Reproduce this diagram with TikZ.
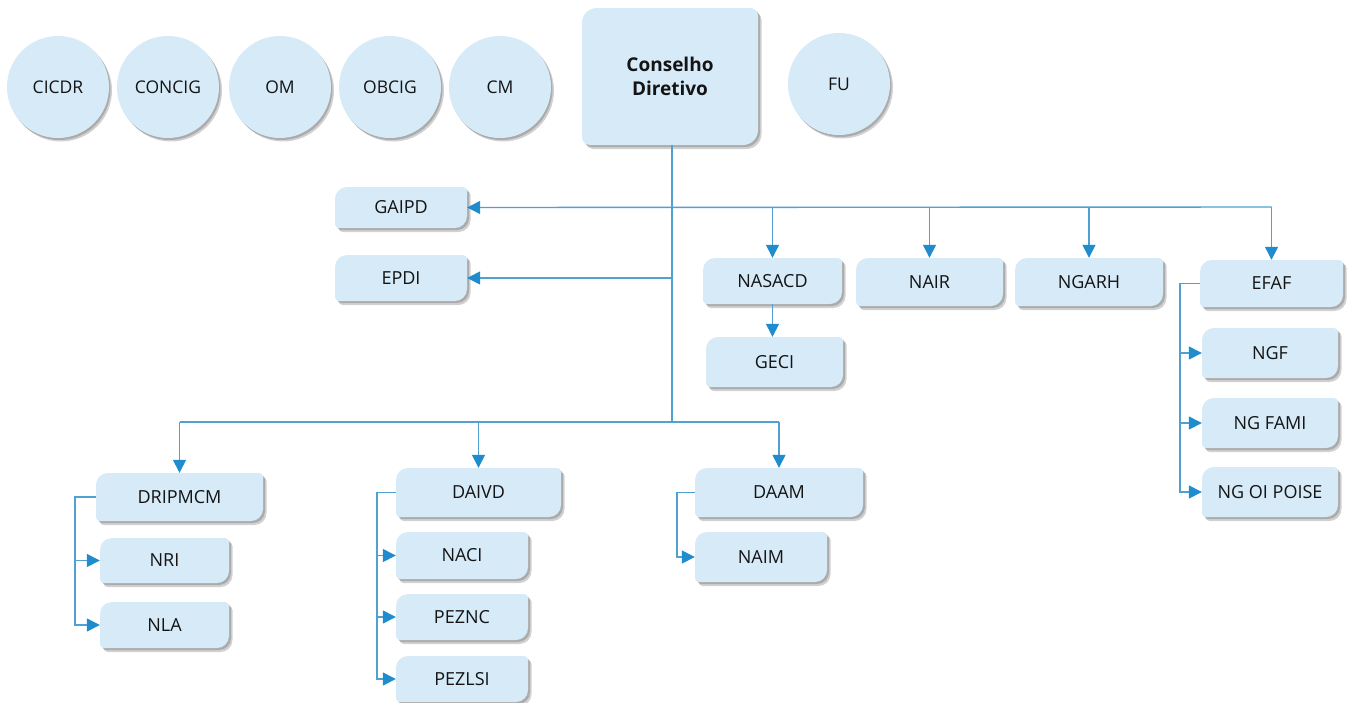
\documentclass[tikz,border=0pt]{standalone}
\usepackage{fontspec}
\setmainfont{Open Sans}
\usetikzlibrary{arrows.meta}
\definecolor{boxc}{RGB}{214,234,248}
\definecolor{linec}{RGB}{80,160,210}
\definecolor{tipc}{RGB}{30,140,205}
\definecolor{txtc}{RGB}{20,20,20}
\tikzset{
  lbl/.style={inner sep=0pt, text=txtc, font=\fontsize{18}{22}\selectfont, align=center},
  conn/.style={draw=linec, line width=1.4pt},
  tipend/.style={-{Triangle[length=13pt,width=13pt,color=tipc]}},
  circ/.style={circle, fill=boxc, inner sep=0pt, minimum size=102pt, text=txtc, font=\fontsize{17.5}{21}\selectfont},
  shad/.style={fill=black, opacity=0.18},
}
\newcommand\Rr{12}
\newcommand\rr{4}
\newcommand\oboxpath[4]{%
  ({#1+\Rr},{-#2}) -- ({#3-\rr},{-#2}) arc[start angle=90,end angle=0,radius=\rr]
  -- (#3,{-#4+\Rr}) arc[start angle=0,end angle=-90,radius=\Rr]
  -- ({#1+\rr},{-#4}) arc[start angle=270,end angle=180,radius=\rr]
  -- (#1,{-#2-\Rr}) arc[start angle=180,end angle=90,radius=\Rr] -- cycle}
\newcommand\obox[7][lbl]{%
  \begin{scope}[shift={(3.5,-4)}]\fill[shad] \oboxpath{#3}{#4}{#5}{#6};\end{scope}
  \begin{scope}[shift={(2,-2)}]\fill[shad] \oboxpath{#3}{#4}{#5}{#6};\end{scope}
  \fill[boxc] \oboxpath{#3}{#4}{#5}{#6};
  \pgfmathsetmacro\bw{#5-#3}\pgfmathsetmacro\bh{#6-#4}
  \node[#1, minimum width=\bw pt, minimum height=\bh pt] (#2) at ({(#3+#5)/2},{-(#4+#6)/2}) {#7};
}
\newcommand\ocirc[4]{%
  \fill[shad] ({#2+3},{-#3-3.5}) circle[radius=51];
  \fill[shad] ({#2+1.5},{-#3-2}) circle[radius=51];
  \node[circ] (#1) at (#2,-#3) {#4};
}
\begin{document}
\begin{tikzpicture}[x=1pt,y=1pt]
\useasboundingbox (0,0) rectangle (1351,-702);
\fill[white] (0,0) rectangle (1351,-702);

% circles
\ocirc{cicdr}{58}{87}{CICDR}
\ocirc{concig}{168}{87}{CONCIG}
\ocirc{om}{280}{87}{OM}
\ocirc{obcig}{390}{87}{OBCIG}
\ocirc{cm}{500}{87}{CM}
\ocirc{fu}{839}{84}{FU}

% top box
\renewcommand\Rr{15}\renewcommand\rr{8}
\obox[lbl,font=\bfseries\fontsize{19}{24}\selectfont]{CD}{582}{8}{758}{145}{Conselho\\Diretivo}
\renewcommand\Rr{12}\renewcommand\rr{4}

% boxes
\obox{GAIPD}{335}{187}{467}{228}{GAIPD}
\obox{EPDI}{335}{255}{467}{301}{EPDI}
\obox{NASACD}{703}{258}{842}{304}{NASACD}
\obox{GECI}{706}{337}{843}{387}{GECI}
\obox{NAIR}{856}{258}{1003}{306}{NAIR}
\obox{NGARH}{1015}{258}{1163}{306}{NGARH}
\obox{EFAF}{1200}{260}{1343}{307}{EFAF}
\obox{NGF}{1202}{328}{1338}{378}{NGF}
\obox{NGFAMI}{1202}{398}{1338}{448}{NG FAMI}
\obox{NGOI}{1202}{467}{1338}{517}{NG OI POISE}
\obox{DRIPMCM}{96}{473}{263}{521}{DRIPMCM}
\obox{NRI}{100}{538}{229}{583}{NRI}
\obox{NLA}{100}{602}{229}{648}{NLA}
\obox{DAIVD}{396}{468}{561}{517}{DAIVD}
\obox{NACI}{396}{532}{528}{579}{NACI}
\obox{PEZNC}{396}{594}{528}{640}{PEZNC}
\obox{PEZLSI}{396}{656}{528}{702}{PEZLSI}
\obox{DAAM}{695}{468}{863}{517}{DAAM}
\obox{NAIM}{695}{532}{827}{582}{NAIM}

% junctions
\coordinate (tr) at (672,-207);
\coordinate (tb) at (672,-422);
\coordinate (hR) at (EFAF.north |- tr);
\coordinate (b1) at (75,0);
\coordinate (b2) at (377,0);
\coordinate (b3) at (677,0);
\coordinate (b4) at (1180,0);

% trunk and top branch
\draw[conn] (CD.south -| tr) -- (tb);
\draw[conn,tipend] (hR) -- (GAIPD.east);
\draw[conn,tipend] (hR) -- (EFAF.north);
\draw[conn,tipend] (NASACD.north |- tr) -- (NASACD.north);
\draw[conn,tipend] (NAIR.north |- tr) -- (NAIR.north);
\draw[conn,tipend] (NGARH.north |- tr) -- (NGARH.north);
\draw[conn,tipend] (EPDI.east -| tr) -- (EPDI.east);
\draw[conn,tipend] (NASACD.south) -- (NASACD.south |- GECI.north);

% bottom branch
\draw[conn] (DRIPMCM.north |- tb) -- (DAAM.north |- tb);
\draw[conn,tipend] (DRIPMCM.north |- tb) -- (DRIPMCM.north);
\draw[conn,tipend] (DAIVD.north |- tb) -- (DAIVD.north);
\draw[conn,tipend] (DAAM.north |- tb) -- (DAAM.north);

% sub brackets
\draw[conn,tipend] (DRIPMCM.west) -- (DRIPMCM.west -| b1) |- (NLA.west);
\draw[conn,tipend] (NRI.west -| b1) -- (NRI.west);
\draw[conn,tipend] (DAIVD.west) -- (DAIVD.west -| b2) |- (PEZLSI.west);
\draw[conn,tipend] (NACI.west -| b2) -- (NACI.west);
\draw[conn,tipend] (PEZNC.west -| b2) -- (PEZNC.west);
\draw[conn,tipend] (DAAM.west) -- (DAAM.west -| b3) |- (NAIM.west);
\draw[conn,tipend] (EFAF.west) -- (EFAF.west -| b4) |- (NGOI.west);
\draw[conn,tipend] (NGF.west -| b4) -- (NGF.west);
\draw[conn,tipend] (NGFAMI.west -| b4) -- (NGFAMI.west);
\end{tikzpicture}
\end{document}
